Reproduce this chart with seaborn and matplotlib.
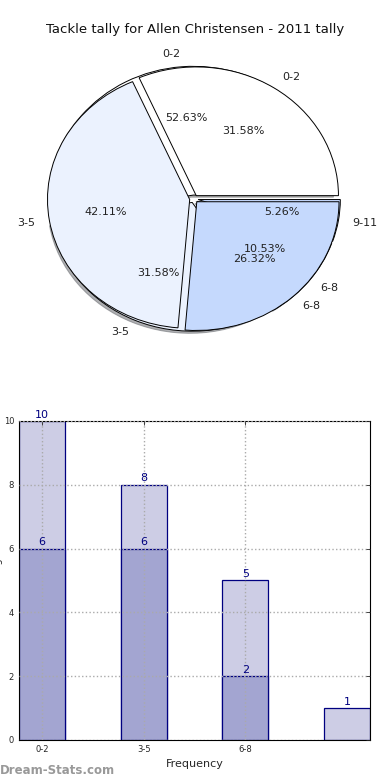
import numpy as np
import pandas as pd
from matplotlib import pyplot as plt
import seaborn as sns

# ---- data ----
title = "Tackle tally for Allen Christensen - 2011 tally"
# back pie (drawn first, with shadow)
pie_a_labels = ["0-2", "3-5", "6-8", "9-11"]
pie_a_counts = [10, 6, 2, 1]
# front pie
pie_b_labels = ["0-2", "3-5", "6-8"]
pie_b_counts = [6, 8, 5]

bar_cats = ["0-2", "3-5", "6-8", "9-11"]
bar_total = [10, 8, 5, 1]
bar_cats_dark = ["0-2", "3-5", "6-8"]
bar_dark = [6, 6, 2]
tick_labels = ["0-2", "3-5", "6-8"]

sns.set_style("white")
plt.rcParams['font.family'] = ['DejaVu Sans']

pie_colors = ["#ffffff", "#ebf2fe", "#c5d9fd", "#c5d9fd"]
light_bar = "#cdcde5"
dark_bar = "#a3a5d1"

fig = plt.figure(figsize=(3.9, 7.8), dpi=100)

# ---- pie part ----
ax1 = fig.add_axes([0.0487, 0.542, 0.897, 0.406])
wedge_kw = dict(edgecolor="black", linewidth=0.7)
ax1.pie(pie_a_counts, labels=pie_a_labels, colors=pie_colors,
        explode=[0.03] * 4, autopct="%.2f%%",
        shadow=dict(ox=-0.012, oy=-0.012, shade=0.6),
        wedgeprops=wedge_kw, textprops=dict(fontsize=8, color="#222222"))
ax1.pie(pie_b_counts, labels=pie_b_labels, colors=pie_colors[:3],
        explode=[0.03] * 3, autopct="%.2f%%",
        wedgeprops=wedge_kw, textprops=dict(fontsize=8, color="#222222"))
ax1.set_aspect("auto")
ax1.set_xlim(-1.23, 1.23)
ax1.set_ylim(-1.23, 1.23)
fig.text(0.5, 1 - 30 / 780, title, ha="center", va="center", fontsize=9.5, color="#111111")

# ---- bar part ----
ax2 = fig.add_axes([0.0487, 0.0513, 0.9, 0.409])
df_tot = pd.DataFrame({"cat": bar_cats, "n": bar_total})
df_dark = pd.DataFrame({"cat": bar_cats_dark, "n": bar_dark})
sns.barplot(data=df_tot, x="cat", y="n", order=bar_cats, color=light_bar,
            saturation=1, width=0.45, edgecolor="navy", linewidth=0.9, ax=ax2)
sns.barplot(data=df_dark, x="cat", y="n", order=bar_cats, color=dark_bar,
            saturation=1, width=0.45, edgecolor="navy", linewidth=0.9, ax=ax2)
for cont in ax2.containers:
    labs = ["%d" % v if v > 0 else "" for v in cont.datavalues]
    ax2.bar_label(cont, labels=labs, padding=1, color="navy", fontsize=8)

ax2.set_xlim(-0.225, 3.225)
ax2.set_ylim(0, 10)
ax2.set_xticks(range(len(tick_labels)))
ax2.set_xticklabels(tick_labels)
ax2.set_yticks(range(0, 11, 2))
ax2.grid(True, linestyle=":", color="#aaaaaa", linewidth=1)
ax2.set_axisbelow(False)
for sp in ax2.spines.values():
    sp.set_color("black")
    sp.set_linewidth(0.8)
ax2.tick_params(direction="in", top=True, right=True, labelsize=6, length=3, width=0.6)
ax2.set_xlabel("Frequency", fontsize=8, labelpad=4)
ax2.set_ylabel("Tackles in a game", fontsize=7)
ax2.yaxis.set_label_coords(-0.045, 0.5)

fig.text(0.0, 1 - 770 / 780, "Dream-Stats.com", ha="left", va="center",
         fontsize=8.5, color="#999999", fontweight="bold")

plt.savefig("out.png", dpi=100)
